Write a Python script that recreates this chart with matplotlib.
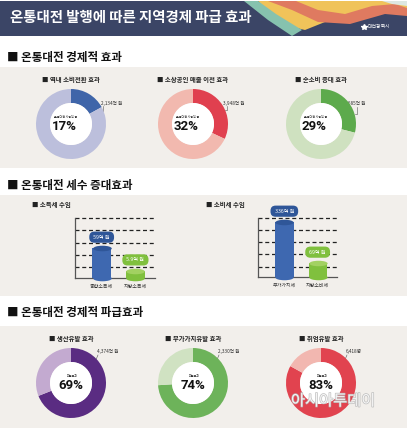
import matplotlib
matplotlib.use('Agg')
import matplotlib.pyplot as plt
from matplotlib.patches import Rectangle, Circle, Polygon
from matplotlib.path import Path
import matplotlib.patheffects as pe
import numpy as np

plt.rcParams['font.family'] = ['Noto Sans CJK KR', 'DejaVu Sans']

W, H, DPI = 407, 428, 100

# ---------------- data ----------------
title = "온통대전 발행에 따른 지역경제 파급 효과"
sec_titles = ["온통대전 경제적 효과", "온통대전 세수 증대효과", "온통대전 경제적 파급효과"]

eff_labels = ["역내 소비전환 효과", "소상공인 매출 이전 효과", "순소비 증대 효과"]
eff_pct = [17, 32, 29]
eff_amount = ["2,134억 원", "3,948억 원", "3,685억 원"]

tax_groups = ["소득세 수입", "소비세 수입"]
income_tax_cats = ["종합소득세", "지방소득세"]
income_tax_vals = [59, 5.9]
cons_tax_cats = ["부가가치세", "지방소비세"]
cons_tax_vals = [336, 69]

ripple_labels = ["생산유발 효과", "부가가치유발 효과", "취업유발 효과"]
ripple_pct = [69, 74, 83]
ripple_amount = ["4,374억 원", "2,330억 원", "6,418명"]

# ---------------- style ----------------
NAVY = '#3b4566'
PANEL = '#f2efeb'
eff_colors = [('#3f65a9', '#bcbfdc'), ('#e0404f', '#f2b9af'), ('#5daa4c', '#cfe1c0')]
rip_colors = [('#5a2c82', '#c3aad0'), ('#6db35a', '#d0e2c2'), ('#e1434f', '#f2b7b0')]
BLUE, BLUE_TOP = '#3e68b0', '#2f5698'
GREEN, GREEN_TOP = '#80c03e', '#a2d162'

fig = plt.figure(figsize=(W / DPI, H / DPI), dpi=DPI)
fig.patch.set_facecolor('white')

bg = fig.add_axes([0, 0, 1, 1])
bg.set_xlim(0, W)
bg.set_ylim(H, 0)
bg.axis('off')

def px_axes(x0, y0, x1, y1):
    return fig.add_axes([x0 / W, 1 - y1 / H, (x1 - x0) / W, (y1 - y0) / H])

# ---- header band ----
bg.add_patch(Rectangle((0, 1), W, 35, fc=NAVY, ec='none', zorder=1))
hdr_shapes = [
    ([(258, 1), (407, 1), (407, 14), (372, 9), (340, 16), (305, 30), (280, 24)], '#f0c35a'),
    ([(268, 1), (296, 1), (318, 10), (345, 14), (372, 6), (395, 4), (407, 8), (407, 16),
      (385, 14), (350, 24), (318, 22), (292, 10)], '#df7a60'),
    ([(244, 1), (258, 1), (276, 14), (302, 30), (292, 36), (268, 20)], '#86c2ae'),
    ([(382, 1), (407, 1), (407, 6), (392, 4)], '#dde7e2'),
]
for pts, c in hdr_shapes:
    bg.add_patch(Polygon(pts, closed=True, fc=c, ec='none', zorder=2))
bg.text(10, 18, title, fontsize=10.4, fontweight='heavy', color='white', va='center', ha='left', zorder=3)
bg.plot([364], [26.5], marker='*', color='white', markersize=4, zorder=3)
bg.text(368, 26.5, "대전광역시", fontsize=3.5, color='white', va='center', ha='left', zorder=3)

# ---- panels ----
for y0, y1 in [(67, 168), (195, 296), (326, 428)]:
    bg.add_patch(Rectangle((0, y0), W, y1 - y0, fc=PANEL, ec='none', zorder=0.5))

for (yy, t) in zip([57, 185, 312], sec_titles):
    bg.text(7, yy, "■ " + t, fontsize=8.3, fontweight='heavy', color='#111111', va='center', ha='left')

# ---- donuts ----
def donut(cx, cy, pct, dark, light, sub, amount, label_xy, leader, small, shift):
    r = 35
    ax = px_axes(cx - r, cy - r, cx + r, cy + r)
    ax.pie([pct, 100 - pct], colors=[dark, light], startangle=90, counterclock=False,
           radius=1, wedgeprops=dict(width=0.4, edgecolor='none'))
    ax.add_patch(Circle((0, 0), 0.6, fc='white', ec='none'))
    ax.set_xlim(-1, 1)
    ax.set_ylim(-1, 1)
    ax.axis('off')
    ax.text(shift + 0.05, 0.2, small, fontsize=2.2, ha='center', va='center', color='#333333')
    ax.text(shift, -0.06, f"{pct}%", fontsize=9.5, fontweight='bold', ha='center', va='center',
            family=['Roboto', 'DejaVu Sans'], color='#111111')
    bg.text(cx, cy - 45, "■ " + sub, fontsize=4.6, fontweight='bold', ha='center', va='center', color='#222222')
    bg.text(label_xy[0], label_xy[1], amount, fontsize=3.4, ha='left', va='center', color='#333333')
    bg.plot(leader[0], leader[1], color='#555555', lw=0.4)

row1_cx = [71, 193, 321]
row1_cy = 124
amt1_xy = [(101, 103), (223, 103), (344, 103)]
lead1 = [([103, 103, 101], [106, 111, 111]), ([227, 227, 225], [106, 110, 110]),
         ([357, 357, 355], [107, 114, 114])]
for i in range(3):
    donut(row1_cx[i], row1_cy, eff_pct[i], eff_colors[i][0], eff_colors[i][1],
          eff_labels[i], eff_amount[i], amt1_xy[i], lead1[i], "온통대전 사용액 중", -0.2)

row3_cy = 383
amt3_xy = [(97, 352), (218, 352), (346, 352)]
lead3 = [([98, 95], [355, 362]), ([219, 216], [355, 362]), ([347, 344], [355, 362])]
for i in range(3):
    donut(row1_cx[i], row3_cy, ripple_pct[i], rip_colors[i][0], rip_colors[i][1],
          ripple_labels[i], ripple_amount[i], amt3_xy[i], lead3[i], "파급효과", 0.0)

# ---- cylinder bar charts ----
ell = Path.unit_circle()
ell = Path(ell.vertices * np.array([1.0, 0.3]), ell.codes)

def cyl_chart(box, cats, vals, ylim, group, group_xy):
    ax = px_axes(*box)
    ax.set_facecolor('none')
    ax.set_yscale('log')
    ax.set_ylim(*ylim)
    ax.set_xlim(-0.79, 1.58)
    for s in ['top', 'right']:
        ax.spines[s].set_visible(False)
    for s in ['left', 'bottom']:
        ax.spines[s].set_color('#555555')
        ax.spines[s].set_linewidth(0.9)
    ax.set_yticks([])
    ax.yaxis.set_minor_locator(matplotlib.ticker.NullLocator())
    ax.set_xticks(range(len(cats)))
    ax.set_xticklabels(cats, fontsize=3.6, color='#333333')
    ax.tick_params(axis='x', length=0, pad=4)
    for f in [0.18, 0.385, 0.59, 0.795, 1.0]:
        ax.plot([0, 1], [f, f], transform=ax.transAxes, color='#222222', lw=0.9,
                dashes=(3.2, 2.2), clip_on=False, zorder=1)
    w = 0.55
    fig.canvas.draw()
    p0 = ax.transData.transform((0, ylim[0]))
    p1 = ax.transData.transform((w, ylim[0]))
    ms = (p1[0] - p0[0]) * 72 / DPI
    cols = [(BLUE, BLUE_TOP), (GREEN, GREEN_TOP)]
    for i, v in enumerate(vals):
        body, top = cols[i]
        ax.bar(i, v - ylim[0], bottom=ylim[0], width=w, color=body, zorder=3)
        ax.plot([i], [ylim[0]], marker=ell, markersize=ms, color=body, ls='none',
                zorder=3, clip_on=False, markeredgewidth=0)
        ax.plot([i], [v], marker=ell, markersize=ms, color=top, ls='none', zorder=4,
                markeredgewidth=0)
        ax.annotate(f" {v:g}억 원 ", xy=(i, v), xytext=(0, 7.8), textcoords='offset points',
                    ha='center', va='center', fontsize=3.7, color='white', zorder=5,
                    annotation_clip=False,
                    bbox=dict(boxstyle='round,pad=0.6,rounding_size=1.0',
                              fc=top if i == 0 else body, ec='none'))
    bg.text(group_xy[0], group_xy[1], "■ " + group, fontsize=4.6, fontweight='bold', ha='left',
            va='center', color='#222222')

cyl_chart((75, 217.7, 155, 278.3), income_tax_cats, income_tax_vals, (2.74, 1272),
          tax_groups[0], (32, 204))
cyl_chart((258, 217.7, 337, 277.3), cons_tax_cats, cons_tax_vals, (39.7, 397),
          tax_groups[1], (206, 204))

# ---- watermark ----
fig.text(333 / W, 1 - 401 / H, "아시아투데이", fontsize=11, color='white', alpha=0.85,
         ha='center', va='center',
         path_effects=[pe.withStroke(linewidth=1.0, foreground='#b5b5b5')])

fig.savefig('out.png', dpi=DPI, facecolor='white')
